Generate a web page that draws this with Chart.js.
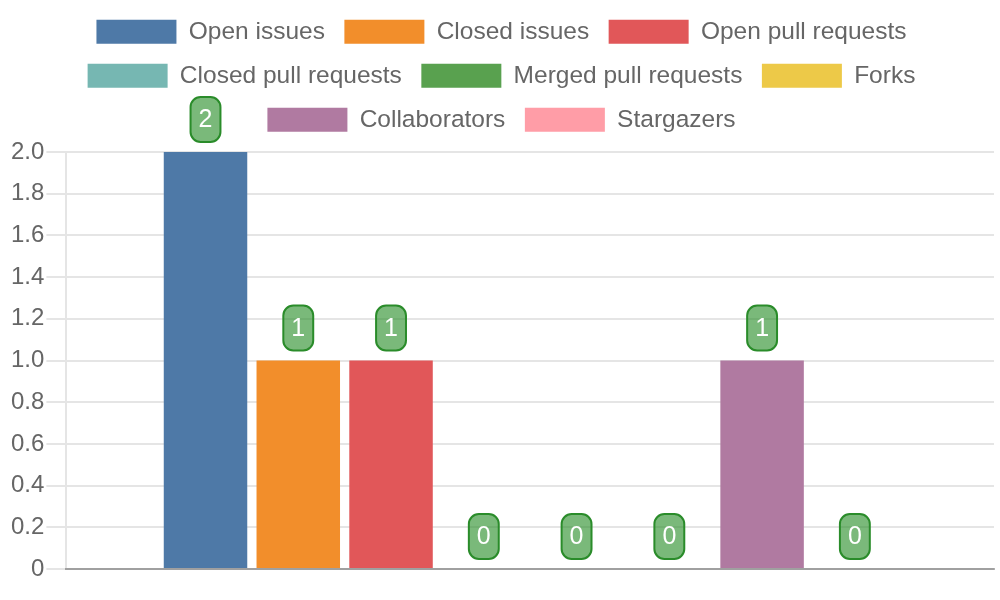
<!DOCTYPE html>
<html>
<head>
<meta charset="utf-8">
<script src="https://cdn.jsdelivr.net/npm/chart.js@4.4.1/dist/chart.umd.min.js"></script>
<style>
  html, body { margin: 0; padding: 0; background: #fff; }
  #wrap { width: 1000px; height: 600px; }
</style>
</head>
<body>
<div id="wrap"><canvas id="statsChart" width="1000" height="600"></canvas></div>
<script>
const categories = [""];
const seriesNames = [
  "Open issues", "Closed issues", "Open pull requests", "Closed pull requests",
  "Merged pull requests", "Forks", "Collaborators", "Stargazers"
];
const seriesValues = [2, 1, 1, 0, 0, 0, 1, 0];
const seriesColors = [
  "#4e79a7", "#f28e2b", "#e15759", "#76b7b2",
  "#59a14f", "#edc948", "#b07aa1", "#ff9da7"
];
const yTicks = [0, 0.2, 0.4, 0.6, 0.8, 1.0, 1.2, 1.4, 1.6, 1.8, 2.0];

const FONT = "'Liberation Sans', Arial, sans-serif";

// value badges above each bar
const valueBadges = {
  id: "valueBadges",
  afterDraw(chart) {
    const ctx = chart.ctx;
    ctx.save();
    ctx.font = "25px " + FONT;
    chart.data.datasets.forEach((ds, i) => {
      const meta = chart.getDatasetMeta(i);
      if (meta.hidden) return;
      meta.data.forEach((bar, j) => {
        const text = String(ds.data[j]);
        const w = ctx.measureText(text).width + 16;
        const h = 30 + 15;
        const x = bar.x - w / 2;
        const y = bar.y - 10 - h;
        ctx.beginPath();
        ctx.roundRect(x, y, w, h, 10);
        ctx.fillStyle = "rgba(34,139,34,0.6)";
        ctx.fill();
        ctx.lineWidth = 2;
        ctx.strokeStyle = "#2a8c2a";
        ctx.stroke();
        ctx.fillStyle = "#fff";
        ctx.textAlign = "center";
        ctx.textBaseline = "middle";
        ctx.fillText(text, bar.x, y + h / 2 + 1);
      });
    });
    ctx.restore();
  }
};

// a bit more room under the legend
const legendGap = {
  id: "legendGap",
  beforeInit(chart) {
    const fit = chart.legend.fit;
    chart.legend.fit = function () {
      fit.call(this);
      this.height += 10;
    };
  }
};

new Chart(document.getElementById("statsChart"), {
  type: "bar",
  data: {
    labels: categories,
    datasets: seriesNames.map((name, i) => ({
      label: name,
      data: [seriesValues[i]],
      backgroundColor: seriesColors[i]
    }))
  },
  options: {
    responsive: false,
    animation: false,
    layout: { padding: { left: 9, right: 6, bottom: 23 } },
    scales: {
      x: {
        grid: { display: false },
        border: { color: "rgba(0,0,0,0.3)", width: 2 },
        ticks: { display: false }
      },
      y: {
        min: 0,
        max: 2,
        afterBuildTicks: axis => { axis.ticks = yTicks.map(v => ({ value: v })); },
        grid: { color: "rgba(0,0,0,0.1)", lineWidth: 2, tickLength: 20 },
        border: { color: "rgba(0,0,0,0.1)", width: 2 },
        ticks: {
          color: "#666",
          padding: 2,
          font: { size: 24, family: FONT },
          callback: v => v === 0 ? "0" : v.toFixed(1)
        }
      }
    },
    plugins: {
      legend: {
        labels: {
          boxWidth: 80,
          boxHeight: 24,
          padding: 19.5,
          color: "#666",
          font: { size: 24.5, family: FONT }
        }
      },
      tooltip: { enabled: false }
    }
  },
  plugins: [valueBadges, legendGap]
});
</script>
</body>
</html>
